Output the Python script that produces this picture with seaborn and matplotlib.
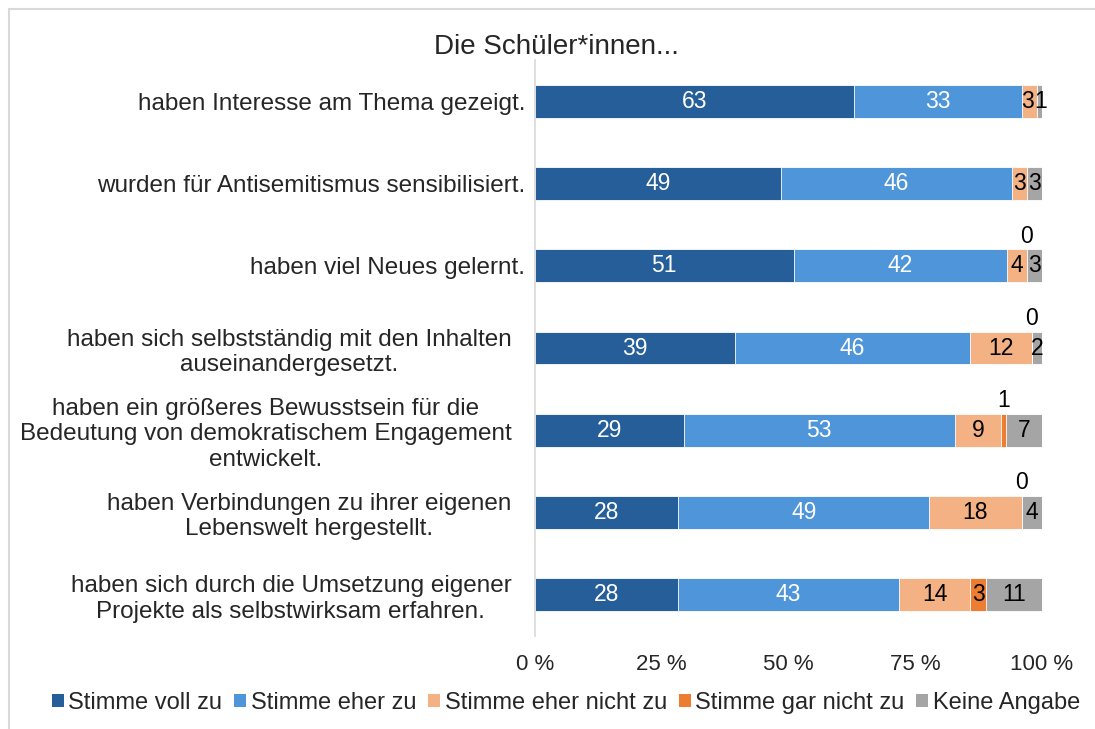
import numpy as np
import pandas as pd
import matplotlib
matplotlib.use("Agg")
import matplotlib.pyplot as plt
import seaborn as sns
from matplotlib.lines import Line2D
from matplotlib.patches import Patch
from matplotlib.transforms import ScaledTranslation

title = "Die Schüler*innen..."
categories = [
    "haben Interesse am Thema gezeigt.",
    "wurden für Antisemitismus sensibilisiert.",
    "haben viel Neues gelernt.",
    "haben sich selbstständig mit den Inhalten\nauseinandergesetzt.",
    "haben ein größeres Bewusstsein für die\nBedeutung von demokratischem Engagement\nentwickelt.",
    "haben Verbindungen zu ihrer eigenen\nLebenswelt hergestellt.",
    "haben sich durch die Umsetzung eigener\nProjekte als selbstwirksam erfahren.",
]
series_names = ["Stimme voll zu", "Stimme eher zu", "Stimme eher nicht zu",
                "Stimme gar nicht zu", "Keine Angabe"]
voll_zu = [63, 49, 51, 39, 29, 28, 28]
eher_zu = [33, 46, 42, 46, 53, 49, 43]
eher_nicht_zu = [3, 3, 4, 12, 9, 18, 14]
gar_nicht_zu = [0, 0, 0, 0, 1, 0, 3]
keine_angabe = [1, 3, 3, 2, 7, 4, 11]
xtick_labels = ["0 %", "25 %", "50 %", "75 %", "100 %"]

colors = ["#255E99", "#4E95D9", "#F4B183", "#ED7D31", "#A5A5A5"]
text_colors = ["white", "white", "black", "black", "black"]
# display mode for the "gar nicht" labels: hidden / above / inside
gar_nicht_mode = ["hidden", "hidden", "above", "above", "above", "above", "inside"]

values = np.array([voll_zu, eher_zu, eher_nicht_zu, gar_nicht_zu, keine_angabe], dtype=float)
totals = values.sum(axis=0)
pct = values / totals * 100
cum = np.cumsum(pct, axis=0)

sns.set_theme(style="white")
plt.rcParams["font.family"] = ["Liberation Sans", "DejaVu Sans"]

W, H = 1095, 729
AX_W_PT = (1042 - 535) * 0.72
VAL_FS = 16.5
fig = plt.figure(figsize=(W / 100, H / 100), dpi=100)
ax = fig.add_axes([535 / W, 1 - 636 / H, (1042 - 535) / W, (636 - 60) / H])

for i in range(len(series_names) - 1, -1, -1):
    df = pd.DataFrame({"cat": categories, "x": cum[i]})
    sns.barplot(data=df, x="x", y="cat", orient="h", color=colors[i],
                width=0.4, edgecolor="white", linewidth=0.6, ax=ax,
                saturation=1)

for r in range(len(categories)):
    inside = []
    for s in range(len(series_names)):
        start = cum[s, r] - pct[s, r]
        v = int(values[s, r])
        cx = start + pct[s, r] / 2
        if s == 3:
            mode = gar_nicht_mode[r]
            if mode == "hidden":
                continue
            if mode == "above":
                ax.text(cx, r - 0.22, str(v), ha="center", va="bottom",
                        fontsize=VAL_FS, color="black")
                continue
        inside.append([cx, str(v), text_colors[s], 0.0])
    # nudge neighbouring labels apart if they would collide
    for k in range(len(inside) - 1):
        a, b = inside[k], inside[k + 1]
        dist = (b[0] - a[0]) / 100 * AX_W_PT + b[3] - a[3]
        need = 0.556 * VAL_FS * (len(a[1]) + len(b[1])) / 2 + 0.5
        if dist < need:
            d = (need - dist) / 2
            a[3] -= d
            b[3] += d
    for cx, txt, col, off in inside:
        ax.annotate(txt, (cx, r), xytext=(off, 0), textcoords="offset points",
                    ha="center", va="center", fontsize=VAL_FS, color=col)

ax.set_xlim(0, 100)
ax.set_ylim(len(categories) - 0.5, -0.5)
ax.set_xticks([0, 25, 50, 75, 100])
ax.set_xticklabels(xtick_labels)
ax.set_xlabel("")
ax.set_ylabel("")
ax.tick_params(axis="x", length=0, pad=13, labelsize=16)
ax.tick_params(axis="y", length=0, pad=7, labelsize=17.5)
for sp in ["top", "right", "bottom"]:
    ax.spines[sp].set_visible(False)
ax.spines["left"].set_color("#D9D9D9")
ax.spines["left"].set_linewidth(1.2)
ax.grid(False)

fig.text(556 / W, 1 - 47 / H, title, ha="center", va="center", fontsize=20)

handles = [Patch(facecolor=c, edgecolor="none") for c in colors]
fig.legend(handles, series_names, loc="center", ncol=5,
           bbox_to_anchor=(566 / W, 1 - 703 / H), frameon=False,
           fontsize=17, handlelength=0.5, handleheight=0.5,
           handletextpad=0.2, columnspacing=0.5)

fig.add_artist(Line2D([9 / W, 9 / W], [0, 1 - 9 / H], color="#D9D9D9", lw=1.5,
                      transform=fig.transFigure))
fig.add_artist(Line2D([9 / W, 1], [1 - 9 / H, 1 - 9 / H], color="#D9D9D9", lw=1.5,
                      transform=fig.transFigure))

# multi-line category labels sit a little further from the axis, centred
for lab in ax.get_yticklabels():
    lab.set_multialignment("center")
    if "\n" in lab.get_text():
        lab.set_transform(lab.get_transform() +
                          ScaledTranslation(-0.14, 0, fig.dpi_scale_trans))

fig.savefig("out.png", dpi=100, facecolor="white")
